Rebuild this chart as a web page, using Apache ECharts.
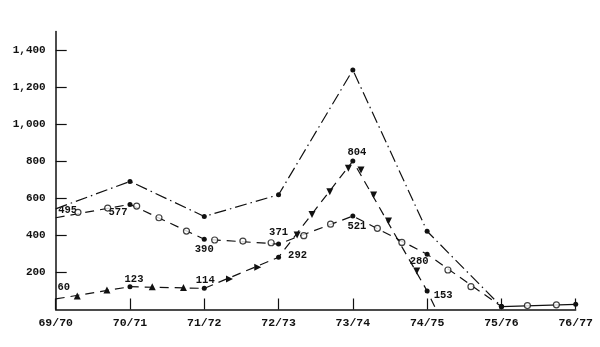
<!DOCTYPE html>
<html><head><meta charset="utf-8">
<script src="https://cdn.jsdelivr.net/npm/echarts@6/dist/echarts.min.js"></script>
<style>html,body{margin:0;padding:0;background:#fff}#c{width:600px;height:347px}</style>
</head><body><div id="c"></div>
<script>
const categories = ['69/70','70/71','71/72','72/73','73/74','74/75','75/76','76/77'];
const yTickValues = [200,400,600,800,1000,1200,1400];
// dash-dot series (filled dots)
const seriesA = [543, 691, 502, 619, 1292, 422, 16];
// open-circle series
const seriesB = [495, 567, 379, 353, 504, 298, 16];
const seriesBTail = [16, 28];          // solid segment 75/76 -> 76/77
const labelsB = ['495','577','390','371','521','280'];
// triangle series
const seriesC = [57, 123, 114, 282, 801, 100];
const seriesCDrop = [5.12, 0];        // line drops to axis just after 74/75
const labelsC = ['60','123','114','292','804','153'];
// decorative markers along lines [position, value]
const circleMarks = [[0.30,524],[0.70,547],[1.09,558],[1.39,495],[1.76,423],[2.14,375],[2.52,369],[2.90,360],[3.34,398],[3.70,460],[4.33,438],[4.66,362],[5.28,213],[5.59,123],[6.35,21],[6.74,25]];
const triUpMarks = [[0.29,73],[0.69,105],[1.30,123],[1.72,118]];
const triRightMarks = [[2.34,165],[2.72,228]];
const triDownMarks = [[3.25,402],[3.45,513],[3.69,635],[3.94,762],[4.11,752],[4.28,618],[4.48,477],[4.86,208]];

const offB = [[12,-7],[-12,8],[0,10],[0,-12],[4,10],[-8,7]];
const offC = [[8,-12],[4,-7],[1,-8],[19,-2],[4,-9],[16,4]];
const lblStyle = {fontFamily:'Liberation Mono', fontSize:10.5, color:'#111', fontWeight:'bold', align:'center', verticalAlign:'middle'};

const chart = echarts.init(document.getElementById('c'), null, {renderer:'canvas'});
const black = '#111';
chart.setOption({
  animation:false,
  backgroundColor:'#fff',
  grid:{left:55.7, right:24.3, top:31.4, bottom:37.5},
  xAxis:{type:'value', min:0, max:7, interval:1,
    axisLine:{show:true, onZero:false, lineStyle:{color:black, width:1.5}},
    axisTick:{show:true, inside:true, length:11, lineStyle:{color:black, width:1.2}},
    axisLabel:{show:true, margin:8, formatter:v=>categories[v]||'', fontFamily:'Liberation Mono', fontWeight:'bold', fontSize:11.5, color:black},
    splitLine:{show:false}},
  yAxis:{type:'value', min:0, max:1500, interval:100,
    axisLine:{show:true, lineStyle:{color:black, width:1.5}},
    axisTick:{show:true, inside:true, length:11, customValues:yTickValues, lineStyle:{color:black, width:1.2}},
    axisLabel:{show:true, margin:10, customValues:yTickValues, padding:[0,0,8,0],
      formatter:v=>v.toLocaleString('en-US'), fontFamily:'Liberation Mono', fontWeight:'bold', fontSize:11, color:black},
    splitLine:{show:false}},
  series:[
    {type:'line', data:seriesA.map((v,i)=>({value:[i,v], symbolSize: i===0?0:5})),
      symbol:'circle', showAllSymbol:true, itemStyle:{color:black}, lineStyle:{color:black, width:1.2, type:[12,4,1.5,4]}, z:3},
    {type:'line', data:seriesB.map((v,i)=>({value:[i,v], symbolSize: i===0?0:5,
        label: labelsB[i] ? {show:true, position:'inside', offset:offB[i], formatter:labelsB[i], ...lblStyle} : undefined})),
      symbol:'circle', showAllSymbol:true, itemStyle:{color:black}, lineStyle:{color:black, width:1.2, type:[9,6]}, z:3},
    {type:'line', data:seriesBTail.map((v,i)=>[6+i,v]), symbol:'circle', symbolSize:5,
      itemStyle:{color:black}, lineStyle:{color:black, width:1.2, type:'solid'}, z:3},
    {type:'line', data:seriesC.map((v,i)=>({value:[i,v], symbolSize: i===0?0:5,
        label:{show:true, position:'inside', offset:offC[i], formatter:labelsC[i], ...lblStyle}})).concat([{value:seriesCDrop, symbolSize:0}]),
      symbol:'circle', showAllSymbol:true, itemStyle:{color:black}, lineStyle:{color:black, width:1.2, type:[9,6]}, z:3},
    {type:'scatter', data:circleMarks, symbol:'circle', symbolSize:6,
      itemStyle:{color:'#fff', borderColor:black, borderWidth:1.2}, z:5},
    {type:'scatter', data:triUpMarks, symbol:'triangle', symbolSize:7, itemStyle:{color:black, opacity:1}, z:5},
    {type:'scatter', data:triRightMarks, symbol:'triangle', symbolRotate:-90, symbolSize:7, itemStyle:{color:black, opacity:1}, z:5},
    {type:'scatter', data:triDownMarks, symbol:'triangle', symbolRotate:180, symbolSize:7, itemStyle:{color:black, opacity:1}, z:5}
  ]
});
</script></body></html>
